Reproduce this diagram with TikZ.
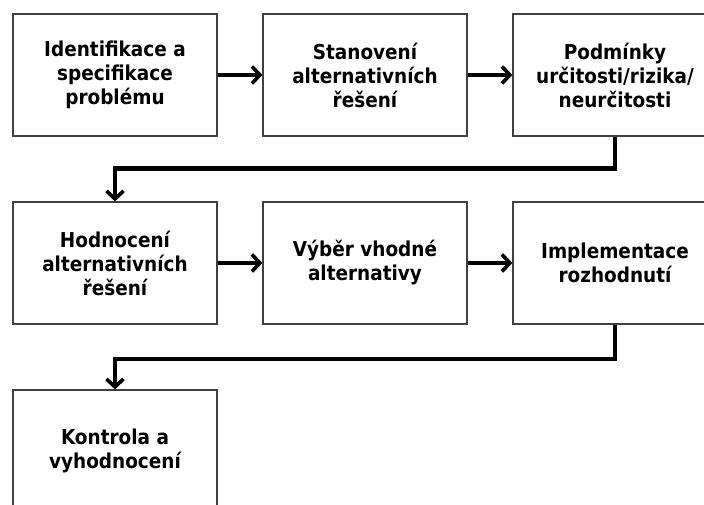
\documentclass[tikz,border=0pt]{standalone}
\usepackage{fontspec}
\setmainfont{DejaVu Sans Condensed}
\usetikzlibrary{arrows.meta}
\begin{document}
\begin{tikzpicture}[x=1pt,y=-1pt,
  stepbox/.style={draw=black!75,line width=1.2pt,minimum width=204pt,minimum height=122pt,
    align=center,inner sep=0pt,font=\bfseries\fontsize{20.5}{24}\selectfont},
  flow/.style={line width=4.2pt,-{Straight Barb[length=8pt,width=17pt,line width=3.6pt]}}]
\useasboundingbox (0,0) rectangle (704,505);
\begin{scope}
\clip (0,0) rectangle (704,505);
\node[stepbox] (b1) at (115,75) {Identifikace a\\specifikace\\problému};
\node[stepbox] (b2) at (365,75) {Stanovení\\alternativních\\řešení};
\node[stepbox] (b3) at (615,75) {Podmínky\\určitosti/rizika/\\neurčitosti};
\node[stepbox] (b4) at (115,263) {Hodnocení\\alternativních\\řešení};
\node[stepbox] (b5) at (365,263) {Výběr vhodné\\alternativy};
\node[stepbox] (b6) at (615,263) {Implementace\\rozhodnutí};
\node[stepbox] (b7) at (115,451) {Kontrola a\\vyhodnocení};
\draw[flow] (b1) -- (b2);
\draw[flow] (b2) -- (b3);
\draw[flow] (b4) -- (b5);
\draw[flow] (b5) -- (b6);
\draw[flow] (b3.south) -- ++(0,32) -| (b4.north);
\draw[flow] (b6.south) -- ++(0,34) -| (b7.north);
\end{scope}
\end{tikzpicture}
\end{document}
